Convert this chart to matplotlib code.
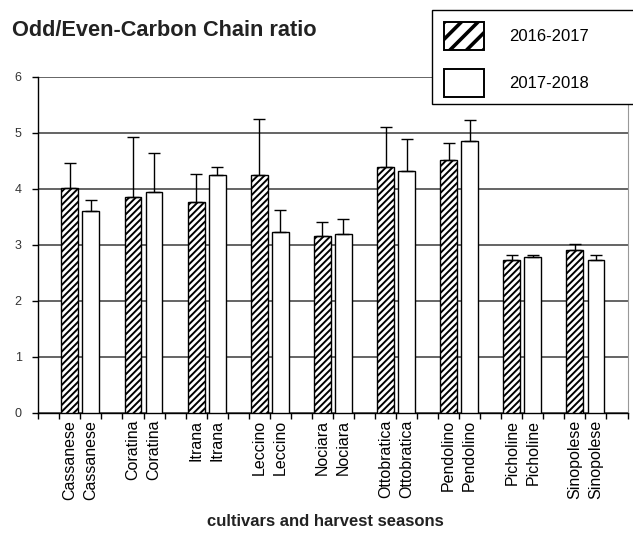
import numpy as np
import matplotlib
matplotlib.use("Agg")
import matplotlib.pyplot as plt
from matplotlib.patches import Patch, Rectangle

plt.rcParams["font.family"] = ["Liberation Sans", "DejaVu Sans"]
plt.rcParams["hatch.linewidth"] = 1.4

# ------------------------------------------------------------------
# DATI
# ------------------------------------------------------------------
cultivars = ["Cassanese", "Coratina", "Itrana", "Leccino", "Nociara",
             "Ottobratica", "Pendolino", "Picholine", "Sinopolese"]
seasons = ["2016-2017", "2017-2018"]

mean_1617 = [4.01, 3.86, 3.77, 4.24, 3.16, 4.39, 4.51, 2.73, 2.90]
err_1617  = [0.45, 1.07, 0.49, 1.00, 0.24, 0.71, 0.30, 0.09, 0.11]
mean_1718 = [3.60, 3.94, 4.24, 3.23, 3.19, 4.32, 4.85, 2.78, 2.73]
err_1718  = [0.19, 0.69, 0.15, 0.39, 0.26, 0.56, 0.38, 0.04, 0.09]

yticks = [0, 1, 2, 3, 4, 5, 6]

# ------------------------------------------------------------------
# POSIZIONI (una categoria vuota tra le cultivar, come in Excel)
# ------------------------------------------------------------------
n = len(cultivars)
x1 = np.arange(n) * 3 + 1
x2 = x1 + 1
w = 0.8

fig = plt.figure(figsize=(6.33, 5.43), dpi=100)
ax = fig.add_axes([38.3 / 633, 1 - 412.7 / 543, (627.5 - 38.3) / 633, (412.7 - 76.7) / 543])

ekw = dict(ecolor="black", elinewidth=1.0, capsize=4, capthick=1.0)
ax.bar(x1, mean_1617, w, color="white", edgecolor="black", linewidth=1.0,
       hatch="/////", yerr=[np.zeros(n), err_1617], error_kw=ekw, zorder=3)
ax.bar(x2, mean_1718, w, color="white", edgecolor="black", linewidth=1.0,
       yerr=[np.zeros(n), err_1718], error_kw=ekw, zorder=3)

ax.set_xlim(-0.5, 3 * n + 0.5)
ax.set_ylim(0, 6)
ax.set_yticks(yticks)
ax.yaxis.grid(True, color="#3a3a3a", linewidth=1.1, zorder=0)
ax.set_axisbelow(True)

ticks = np.concatenate([x1, x2])
labels = cultivars + cultivars
ax.set_xticks(ticks)
ax.set_xticklabels(labels, rotation=90, fontsize=11.5, va="top")
ax.set_xticks(np.arange(-0.5, 3 * n + 1, 1), minor=True)
ax.tick_params(axis="x", which="major", length=0, pad=5)
ax.tick_params(axis="x", which="minor", length=4, width=1, direction="out")
ax.tick_params(axis="y", length=4, width=1, direction="out", labelsize=9, pad=8,
               labelcolor="#333333")

ax.spines["top"].set_visible(False)
ax.spines["right"].set_color("#999999")
ax.spines["left"].set_linewidth(1.0)
ax.spines["bottom"].set_linewidth(1.0)

# titolo ed etichetta asse
fig.text(12 / 633, 1 - 36 / 543, "Odd/Even-Carbon Chain ratio", fontsize=15.7,
         fontweight="bold", color="#222222", va="baseline")
fig.text(325 / 633, 1 - 522 / 543, "cultivars and harvest seasons", fontsize=12,
         fontweight="bold", color="#222222", ha="center", va="center")

# ------------------------------------------------------------------
# LEGENDA (riquadro che esce dal bordo destro)
# ------------------------------------------------------------------
fig.add_artist(Rectangle((432 / 633, 1 - 103.5 / 543), 0.4, 93.5 / 543,
                         transform=fig.transFigure, facecolor="white",
                         edgecolor="black", linewidth=1.0, zorder=3))
handles = [Patch(facecolor="white", edgecolor="black", hatch="//", linewidth=1.4),
           Patch(facecolor="white", edgecolor="black", linewidth=1.4)]
leg = fig.legend(handles, seasons, loc="upper left", bbox_to_anchor=(444 / 633, 1 - 22 / 543),
                 frameon=False, fontsize=12, handlelength=2.4, handleheight=2.25,
                 handletextpad=1.5, labelspacing=1.1, borderpad=0, borderaxespad=0)
leg.set_zorder(5)
hp = leg.legend_handles[0]
if hasattr(hp, "set_hatch_linewidth"):
    hp.set_hatch_linewidth(2.6)

plt.savefig("out.png", dpi=100)
